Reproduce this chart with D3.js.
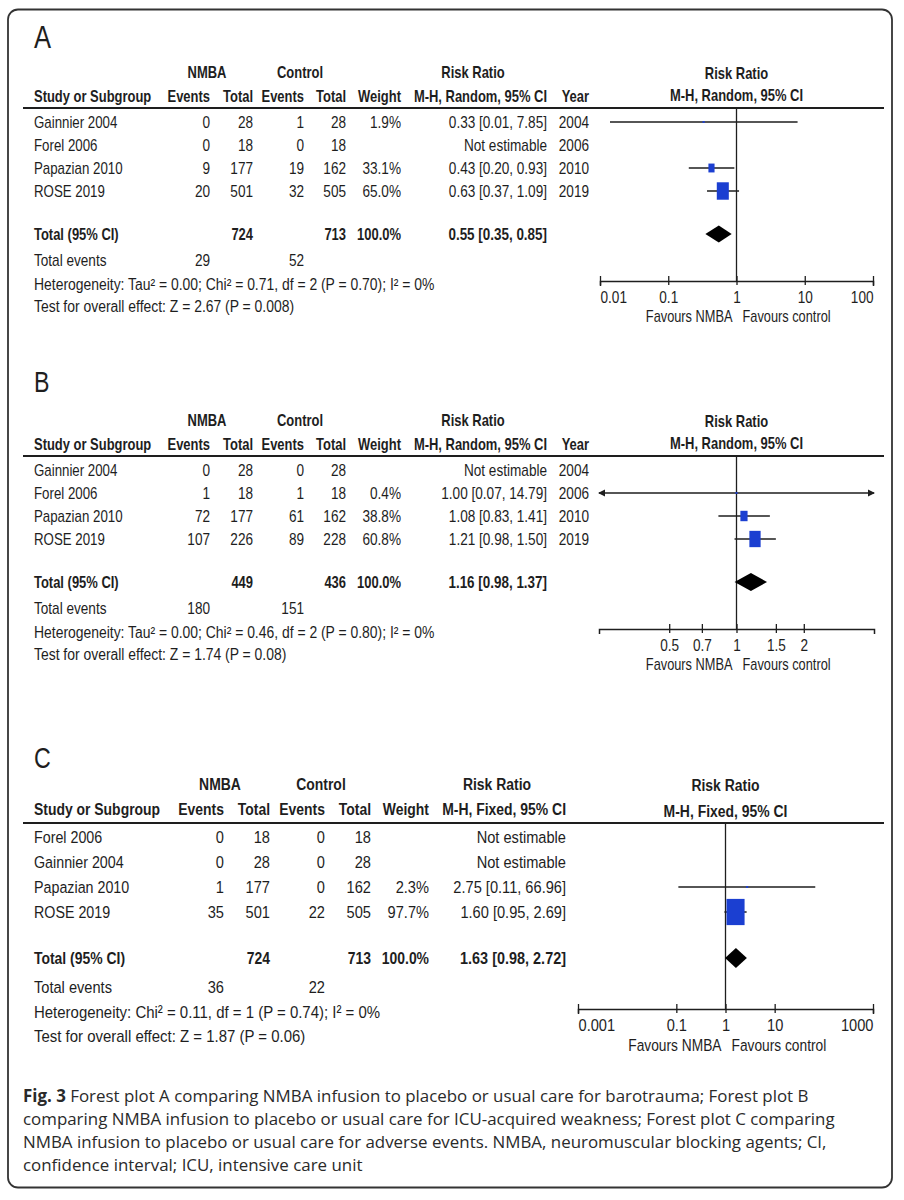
<!DOCTYPE html>
<html><head><meta charset="utf-8">
<script src="https://cdn.jsdelivr.net/npm/d3@7"></script>
<style>
body{margin:0;background:#fff;}
svg{display:block;}
.t{font-family:"Liberation Sans",Arial,sans-serif;fill:#1e1e1e;}
.cap{font-family:"Open Sans",sans-serif;fill:#2a2a2a;}
</style></head><body>
<svg id="c" width="904" height="1200"></svg>
<script>
// ---------- Panel A: barotrauma ----------
const studiesA = ["Gainnier 2004","Forel 2006","Papazian 2010","ROSE 2019"];
const nmbaEventsA = [0, 0, 9, 20];
const nmbaTotalA = [28, 18, 177, 501];
const ctrlEventsA = [1, 0, 19, 32];
const ctrlTotalA = [28, 18, 162, 505];
const weightA = [1.9, null, 33.1, 65.0];
const rrA = [0.33, null, 0.43, 0.63];
const lowerA = [0.014, null, 0.20, 0.37];
const upperA = [7.85, null, 0.93, 1.09];
const yearA = [2004, 2006, 2010, 2019];
const totalsA = [724, 713];
const totalEventsA = [29, 52];
const pooledA = [0.55, 0.35, 0.85];
const hetA = "Heterogeneity: Tau² = 0.00; Chi² = 0.71, df = 2 (P = 0.70); I² = 0%";
const testA = "Test for overall effect: Z = 2.67 (P = 0.008)";
const ticksA = [0.01, 0.1, 1, 10, 100];
const domainA = [0.01, 100];

// ---------- Panel B: ICU-acquired weakness ----------
const studiesB = ["Gainnier 2004","Forel 2006","Papazian 2010","ROSE 2019"];
const nmbaEventsB = [0, 1, 72, 107];
const nmbaTotalB = [28, 18, 177, 226];
const ctrlEventsB = [0, 1, 61, 89];
const ctrlTotalB = [28, 18, 162, 228];
const weightB = [null, 0.4, 38.8, 60.8];
const rrB = [null, 1.00, 1.08, 1.21];
const lowerB = [null, 0.07, 0.83, 0.98];
const upperB = [null, 14.79, 1.41, 1.50];
const yearB = [2004, 2006, 2010, 2019];
const totalsB = [449, 436];
const totalEventsB = [180, 151];
const pooledB = [1.16, 0.98, 1.37];
const hetB = "Heterogeneity: Tau² = 0.00; Chi² = 0.46, df = 2 (P = 0.80); I² = 0%";
const testB = "Test for overall effect: Z = 1.74 (P = 0.08)";
const ticksB = [0.5, 0.7, 1, 1.5, 2];
const domainB = [0.2426, 4.122];

// ---------- Panel C: adverse events ----------
const studiesC = ["Forel 2006","Gainnier 2004","Papazian 2010","ROSE 2019"];
const nmbaEventsC = [0, 0, 1, 35];
const nmbaTotalC = [18, 28, 177, 501];
const ctrlEventsC = [0, 0, 0, 22];
const ctrlTotalC = [18, 28, 162, 505];
const weightC = [null, null, 2.3, 97.7];
const rrC = [null, null, 2.75, 1.60];
const lowerC = [null, null, 0.11, 0.95];
const upperC = [null, null, 66.96, 2.69];
const totalsC = [724, 713];
const totalEventsC = [36, 22];
const pooledC = [1.63, 0.98, 2.72];
const hetC = "Heterogeneity: Chi² = 0.11, df = 1 (P = 0.74); I² = 0%";
const testC = "Test for overall effect: Z = 1.87 (P = 0.06)";
const ticksC = [0.001, 0.1, 1, 10, 1000];
const domainC = [0.001, 1000];

const captionLines = [
  "Forest plot A comparing NMBA infusion to placebo or usual care for barotrauma; Forest plot B",
  "comparing NMBA infusion to placebo or usual care for ICU-acquired weakness; Forest plot C comparing",
  "NMBA infusion to placebo or usual care for adverse events. NMBA, neuromuscular blocking agents; CI,",
  "confidence interval; ICU, intensive care unit"
];

// ---------- build ----------
const panels = [
  {label:"A", method:"Random", studies:studiesA, ne:nmbaEventsA, nt:nmbaTotalA, ce:ctrlEventsA, ct:ctrlTotalA,
   w:weightA, rr:rrA, lo:lowerA, hi:upperA, year:yearA, totals:totalsA, ev:totalEventsA, pooled:pooledA,
   het:hetA, test:testA, ticks:ticksA, domain:domainA, endAnchors:true},
  {label:"B", method:"Random", studies:studiesB, ne:nmbaEventsB, nt:nmbaTotalB, ce:ctrlEventsB, ct:ctrlTotalB,
   w:weightB, rr:rrB, lo:lowerB, hi:upperB, year:yearB, totals:totalsB, ev:totalEventsB, pooled:pooledB,
   het:hetB, test:testB, ticks:ticksB, domain:domainB, endAnchors:false},
  {label:"C", method:"Fixed", studies:studiesC, ne:nmbaEventsC, nt:nmbaTotalC, ce:ctrlEventsC, ct:ctrlTotalC,
   w:weightC, rr:rrC, lo:lowerC, hi:upperC, year:null, totals:totalsC, ev:totalEventsC, pooled:pooledC,
   het:hetC, test:testC, ticks:ticksC, domain:domainC, endAnchors:true}
];

function shiftLayout(L, dy, extra){
  const o = JSON.parse(JSON.stringify(L));
  ["letterY","h1","h2","line","total","events","het","test","ph1","ph2","axisY","tickY","fav"].forEach(k=>o[k]+=dy);
  o.rows = o.rows.map(r=>r+dy);
  return Object.assign(o, extra);
}
// horizontal condensing of the table font (bold / regular / favours labels)
const SXB = 0.81, SXN = 0.85, SXF = 0.8;
const LA = {fs:16, letterFs:32, letterY:36.5, h1:72, h2:96, line:108, rows:[122,145,168,191], total:234, events:260,
  het:284, test:306, ph1:73, ph2:95, axisY:281, tickY:297, fav:316,
  cols:{study:34, nmbaEv:210, nmbaTot:253, ctrlEv:304, ctrlTot:346, weight:401, ci:547, year:589, nmbaHead:207, ctrlHead:300, rrHead:473},
  range:[600,873], diamondH:17, boxK:0.185, lineX:[23,884]};
const LB = shiftLayout(LA, 348, {letterFs:29, range:[599,874], diamondH:18});
LB.letterY = 382;
const LC = {fs:17.2, letterFs:29, letterY:757.5, h1:784, h2:809, line:823, rows:[837,862,887,912], total:958, events:987,
  het:1012, test:1036, ph1:785, ph2:811, axisY:1009, tickY:1025, fav:1045,
  cols:{study:34, nmbaEv:224, nmbaTot:270, ctrlEv:325, ctrlTot:371, weight:429, ci:566, year:null, nmbaHead:220, ctrlHead:321, rrHead:497},
  range:[578,873], diamondH:20, boxK:0.185, lineX:[23,884]};
const layouts = [LA, LB, LC];

const svg = d3.select("#c");
const f2 = d3.format(".2f"), f1 = d3.format(".1f");
const INK = "#1e1e1e", BLUE = "#1b3fd1";

svg.append("rect").attr("x",8).attr("y",9.5).attr("width",884).attr("height",1178)
  .attr("rx",10).attr("fill","none").attr("stroke","#333").attr("stroke-width",1.8);

panels.forEach((d,pi)=>{
  const L = layouts[pi], C = L.cols;
  const g = svg.append("g");
  const T = (x,y,s,anchor,bold,size,sx)=> g.append("text").attr("class","t")
     .attr("transform",`translate(${x},${y}) scale(${sx || (bold?SXB:SXN)},1)`)
     .attr("dy","0.36em").attr("text-anchor",anchor||"start")
     .attr("font-weight",bold?"bold":"normal").attr("font-size",size||L.fs).text(s);
  const x = d3.scaleLog().domain(d.domain).range(L.range);

  T(C.study, L.letterY, d.label, "start", false, L.letterFs, 0.8);
  // table headers
  T(C.nmbaHead, L.h1, "NMBA", "middle", true);
  T(C.ctrlHead, L.h1, "Control", "middle", true);
  T(C.rrHead, L.h1, "Risk Ratio", "middle", true);
  T(C.study, L.h2, "Study or Subgroup", "start", true);
  T(C.nmbaEv, L.h2, "Events", "end", true);
  T(C.nmbaTot, L.h2, "Total", "end", true);
  T(C.ctrlEv, L.h2, "Events", "end", true);
  T(C.ctrlTot, L.h2, "Total", "end", true);
  T(C.weight, L.h2, "Weight", "end", true);
  T(C.ci, L.h2, "M-H, " + d.method + ", 95% CI", "end", true);
  if (d.year) T(C.year, L.h2, "Year", "end", true);
  // plot headers
  T(x(1), L.ph1, "Risk Ratio", "middle", true);
  T(x(1), L.ph2, "M-H, " + d.method + ", 95% CI", "middle", true);

  g.append("line").attr("x1",L.lineX[0]).attr("x2",L.lineX[1]).attr("y1",L.line).attr("y2",L.line)
    .attr("stroke",INK).attr("stroke-width",2);

  // study rows
  d.studies.forEach((s,i)=>{
    const y = L.rows[i];
    T(C.study, y, s, "start", false, null, 0.83);
    T(C.nmbaEv, y, d.ne[i], "end");
    T(C.nmbaTot, y, d.nt[i], "end");
    T(C.ctrlEv, y, d.ce[i], "end");
    T(C.ctrlTot, y, d.ct[i], "end");
    if (d.w[i] != null) T(C.weight, y, f1(d.w[i]) + "%", "end");
    T(C.ci, y, d.rr[i]==null ? "Not estimable" : `${f2(d.rr[i])} [${f2(d.lo[i])}, ${f2(d.hi[i])}]`, "end");
    if (d.year) T(C.year, y, d.year[i], "end");
  });
  // totals
  T(C.study, L.total, "Total (95% CI)", "start", true);
  T(C.nmbaTot, L.total, d.totals[0], "end", true);
  T(C.ctrlTot, L.total, d.totals[1], "end", true);
  T(C.weight, L.total, f1(100) + "%", "end", true);
  T(C.ci, L.total, `${f2(d.pooled[0])} [${f2(d.pooled[1])}, ${f2(d.pooled[2])}]`, "end", true, null, 0.84);
  T(C.study, L.events, "Total events");
  T(C.nmbaEv, L.events, d.ev[0], "end");
  T(C.ctrlEv, L.events, d.ev[1], "end");
  T(C.study, L.het, d.het, "start", false, null, 0.87);
  T(C.study, L.test, d.test, "start", false, null, 0.87);

  // plot: null line
  g.append("line").attr("x1",x(1)).attr("x2",x(1)).attr("y1",L.line).attr("y2",L.axisY)
    .attr("stroke",INK).attr("stroke-width",1.3);
  // axis
  const ax = d3.axisBottom(x).tickValues(d.ticks).tickSizeOuter(0).tickSize(5).tickFormat(v=>String(v));
  const axg = g.append("g").attr("transform",`translate(0,${L.axisY})`).call(ax);
  axg.attr("font-family",null).attr("font-size",null);
  axg.select(".domain").attr("stroke",INK).attr("stroke-width",1.5);
  axg.selectAll(".tick line").attr("y1",-5).attr("y2",4).attr("stroke",INK).attr("stroke-width",1.3);
  axg.selectAll(".tick text").attr("class","t").attr("y",null).attr("x",null)
    .attr("transform",`translate(0,${L.tickY-L.axisY}) scale(${SXN},1)`).attr("dy","0.36em")
    .attr("font-size",L.fs).attr("fill",INK)
    .attr("text-anchor",(v,i)=> d.endAnchors ? (i===0?"start":(i===d.ticks.length-1?"end":"middle")) : "middle");

  // CI lines & boxes
  const [d0,d1] = d.domain;
  d.studies.forEach((s,i)=>{
    if (d.rr[i]==null) return;
    const y = L.rows[i];
    const lo = Math.max(d.lo[i], d0), hi = Math.min(d.hi[i], d1);
    g.append("line").attr("x1",x(lo)).attr("x2",x(hi)).attr("y1",y).attr("y2",y)
      .attr("stroke",INK).attr("stroke-width",1.5);
    if (d.lo[i] < d0) g.append("path").attr("fill",INK)
      .attr("d",`M${x(lo)-1},${y}l7,-3.5v7z`);
    if (d.hi[i] > d1) g.append("path").attr("fill",INK)
      .attr("d",`M${x(hi)+1},${y}l-7,-3.5v7z`);
    const bw = Math.max(L.boxK*d.w[i], 2.2), bh = Math.max(L.boxK*d.w[i]*1.45, 1.8);
    g.append("rect").attr("x",x(d.rr[i])-bw/2).attr("y",y-bh/2).attr("width",bw).attr("height",bh)
      .attr("fill",BLUE);
  });
  // diamond
  const yT = L.total, h = L.diamondH/2;
  g.append("path").attr("fill","#000")
    .attr("d",`M${x(d.pooled[1])},${yT}L${x(d.pooled[0])},${yT-h}L${x(d.pooled[2])},${yT}L${x(d.pooled[0])},${yT+h}Z`);
  // favours
  T(x(1)-4, L.fav, "Favours NMBA", "end", false, null, SXF);
  T(x(1)+6, L.fav, "Favours control", "start", false, null, SXF);
});

// caption
const cap = svg.append("g");
captionLines.forEach((s,i)=>{
  const t = cap.append("text").attr("class","cap").attr("x",23).attr("y",1102+i*23).attr("font-size",16.9);
  if (i===0){ t.append("tspan").attr("font-weight","bold").text("Fig. 3 "); }
  t.append("tspan").text(s);
});
</script></body></html>
